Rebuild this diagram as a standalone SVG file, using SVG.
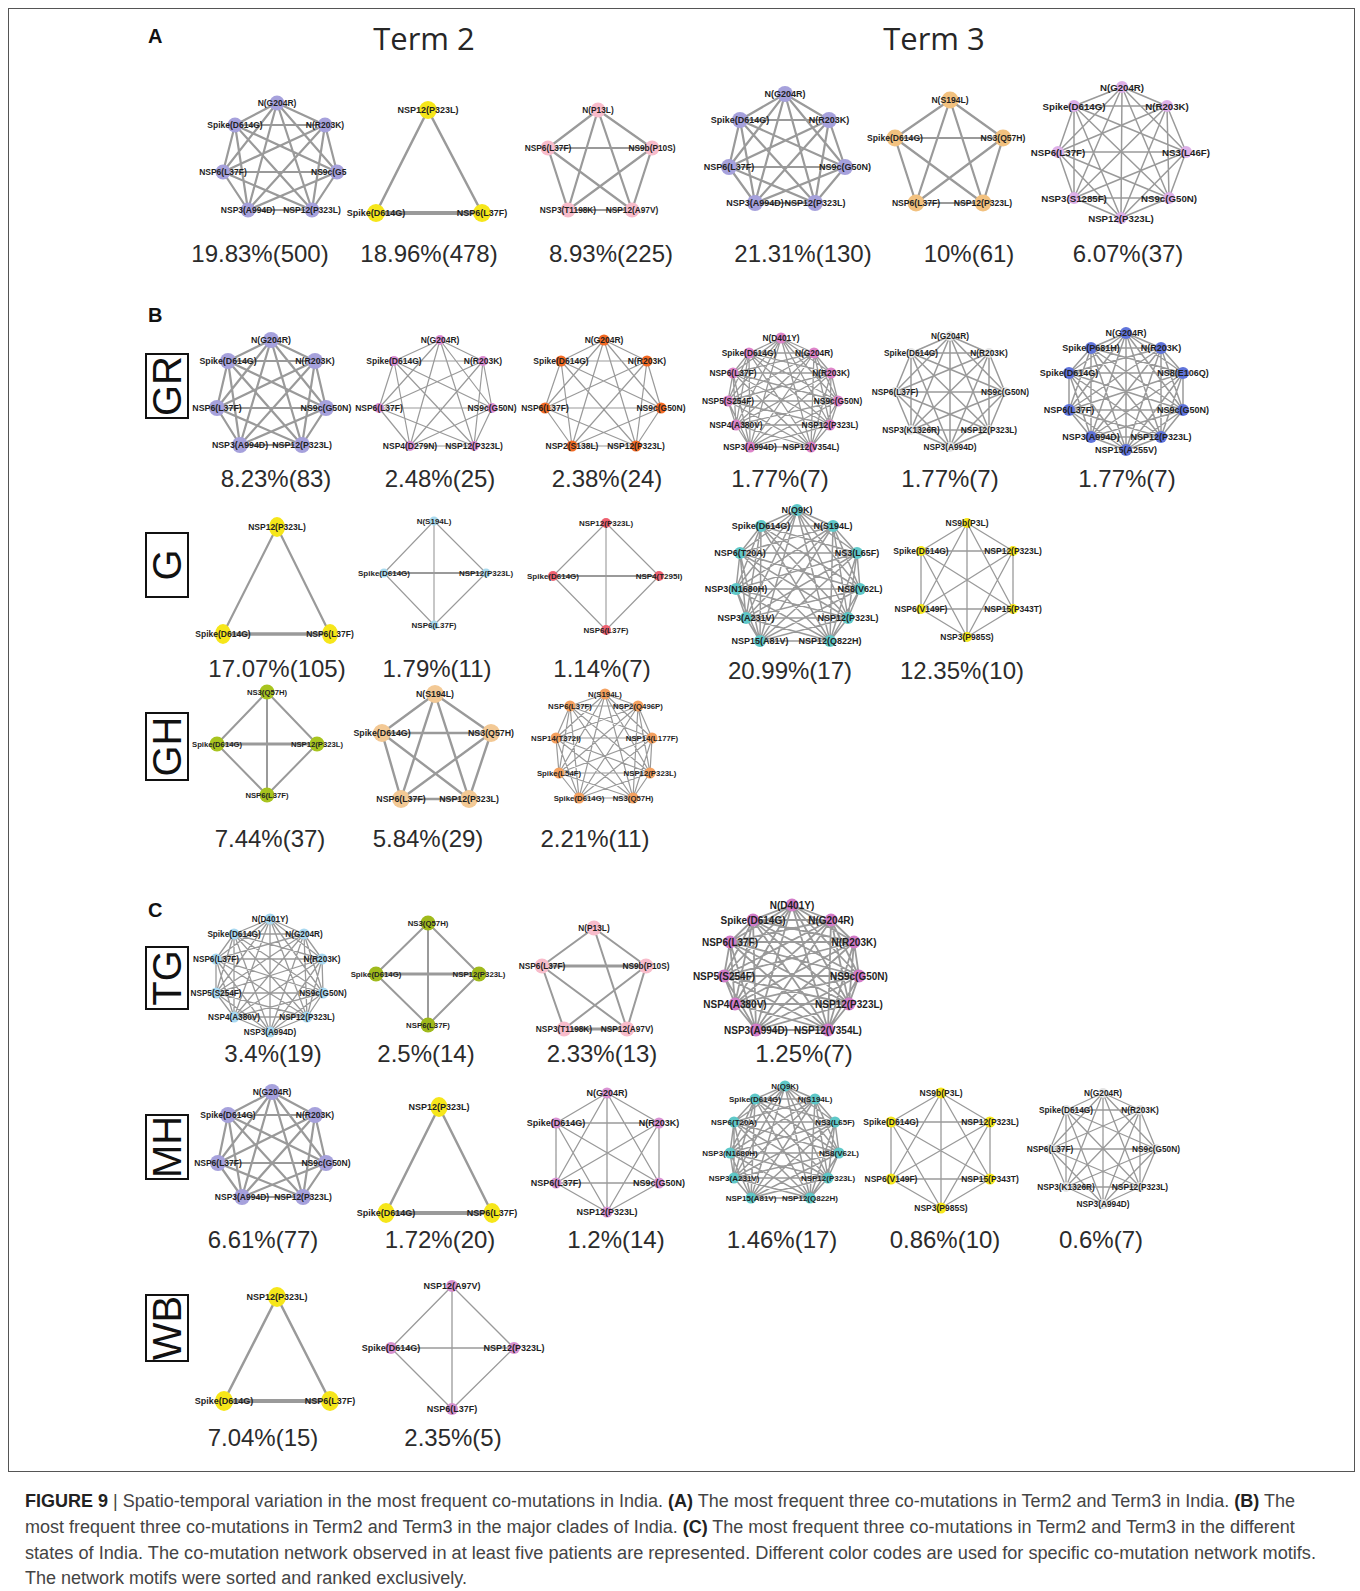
<svg xmlns="http://www.w3.org/2000/svg" width="1360" height="1591" viewBox="0 0 1360 1591">
<style>
.e path{fill:none;stroke:#9a9a9a;stroke-linejoin:round;stroke-linecap:round}
.n text{font-family:"Liberation Sans",Arial,sans-serif;font-weight:bold;fill:#1f1f1f;text-anchor:middle;dominant-baseline:central}
.p{font-family:"Liberation Sans",Arial,sans-serif;font-size:24px;fill:#2b2b2b;text-anchor:middle}
.t{font-family:"Open Sans","Liberation Sans",sans-serif;font-size:31px;fill:#262626;text-anchor:middle}
.k{font-family:"Liberation Sans",Arial,sans-serif;font-weight:bold;font-size:20px;fill:#111}
.bx{fill:none;stroke:#111;stroke-width:2}
.bt{font-family:"Liberation Sans",Arial,sans-serif;font-size:40px;fill:#111;text-anchor:middle}
.cap{font-family:"Liberation Sans",Arial,sans-serif;font-size:18px;fill:#444}
.b{font-weight:bold;fill:#222}
</style>
<rect x="8.5" y="8.5" width="1346" height="1463" fill="none" stroke="#555" stroke-width="1"/>
<text class="k" x="148" y="43">A</text>
<text class="k" x="148" y="322">B</text>
<text class="k" x="148" y="917">C</text>
<text class="t" x="424" y="50">Term 2</text>
<text class="t" x="934" y="50">Term 3</text>
<g id="clade-boxes">
<rect class="bx" x="146" y="354" width="42" height="64"/><text class="bt" transform="translate(167,386) rotate(-90)" y="14">GR</text>
<rect class="bx" x="146" y="533" width="42" height="64"/><text class="bt" transform="translate(167,565) rotate(-90)" y="14">G</text>
<rect class="bx" x="146" y="713" width="42" height="67"/><text class="bt" transform="translate(167,746.5) rotate(-90)" y="14">GH</text>
<rect class="bx" x="146" y="947" width="42" height="62"/><text class="bt" transform="translate(167,978) rotate(-90)" y="14">TG</text>
<rect class="bx" x="146" y="1115" width="42" height="64"/><text class="bt" transform="translate(167,1147) rotate(-90)" y="14">MH</text>
<rect class="bx" x="146" y="1295" width="42" height="66"/><text class="bt" transform="translate(167,1328) rotate(-90)" y="14">WB</text>
</g>
<g id="connectors" class="e">
<path id="eA1" stroke-width="2.2" d="M277 103L325 125L337 172L312 210L248 210L223 172L235 125ZM277 103L337 172L248 210L235 125L325 125L312 210L223 172ZM277 103L312 210L235 125L337 172L223 172L325 125L248 210Z"/>
<path id="eA2" stroke-width="2.5" d="M428 110L482 213M428 110L376 213"/>
<path id="eA2b" stroke-width="4" d="M376 213L482 213"/>
<path id="eA3" stroke-width="2.2" d="M598 110L652 148L632 210L568 210L548 148ZM598 110L632 210L548 148L652 148L568 210Z"/>
<path id="eA4" stroke-width="2.2" d="M785 94L829 120L845 167L815 203L755 203L729 167L740 120ZM785 94L845 167L755 203L740 120L829 120L815 203L729 167ZM785 94L815 203L740 120L845 167L729 167L829 120L755 203Z"/>
<path id="eA5" stroke-width="2.2" d="M950 100L1003 138L983 203L916 203L895 138ZM950 100L983 203L895 138L1003 138L916 203Z"/>
<path id="eA6" stroke-width="1.5" d="M1122 87L1167 106L1186 152L1169 198L1121 218L1074 198L1058 152L1074 106ZM1122 87L1186 152L1121 218L1058 152ZM1167 106L1169 198L1074 198L1074 106ZM1122 87L1169 198L1058 152L1167 106L1121 218L1074 106L1186 152L1074 198ZM1122 87L1121 218M1167 106L1074 198M1186 152L1058 152M1169 198L1074 106"/>
<path id="eGR1" stroke-width="2.2" d="M271 340L315 361L326 408L302 445L240 445L217 408L228 361ZM271 340L326 408L240 445L228 361L315 361L302 445L217 408ZM271 340L302 445L228 361L326 408L217 408L315 361L240 445Z"/>
<path id="eGR2" stroke-width="1.2" d="M440 340L483 361L492 408L474 446L410 446L379 408L394 361ZM440 340L492 408L410 446L394 361L483 361L474 446L379 408ZM440 340L474 446L394 361L492 408L379 408L483 361L410 446Z"/>
<path id="eGR3" stroke-width="1.2" d="M604 340L647 361L661 408L636 446L572 446L545 408L561 361ZM604 340L661 408L572 446L561 361L647 361L636 446L545 408ZM604 340L636 446L561 361L661 408L545 408L647 361L572 446Z"/>
<path id="eGR4" stroke-width="1.3" d="M781 338L814 353L831 373L838 401L830 425L811 447L750 447L736 425L728 401L733 373L749 353ZM781 338L831 373L830 425L750 447L728 401L749 353L814 353L838 401L811 447L736 425L733 373ZM781 338L838 401L750 447L733 373L814 353L830 425L736 425L749 353L831 373L811 447L728 401ZM781 338L830 425L728 401L814 353L811 447L733 373L831 373L750 447L749 353L838 401L736 425ZM781 338L811 447L749 353L830 425L733 373L838 401L728 401L831 373L736 425L814 353L750 447Z"/>
<path id="eGR5" stroke-width="1.5" d="M950 336L989 353L1005 392L989 430L950 447L911 430L895 392L911 353ZM950 336L1005 392L950 447L895 392ZM989 353L989 430L911 430L911 353ZM950 336L989 430L895 392L989 353L950 447L911 353L1005 392L911 430ZM950 336L950 447M989 353L911 430M1005 392L895 392M989 430L911 353"/>
<path id="eGR6" stroke-width="1.5" d="M1126 333L1161 348L1183 373L1183 410L1161 437L1126 450L1091 437L1069 410L1069 373L1091 348ZM1126 333L1183 373L1161 437L1091 437L1069 373ZM1161 348L1183 410L1126 450L1069 410L1091 348ZM1126 333L1183 410L1091 437L1091 348L1183 373L1126 450L1069 373L1161 348L1161 437L1069 410ZM1126 333L1161 437L1069 373L1183 373L1091 437ZM1161 348L1126 450L1091 348L1183 410L1069 410ZM1126 333L1126 450M1161 348L1091 437M1183 373L1069 410M1183 410L1069 373M1161 437L1091 348"/>
<path id="eG1" stroke-width="2.2" d="M277 527L330 634M277 527L223 634"/>
<path id="eG1b" stroke-width="3.5" d="M223 634L330 634"/>
<path id="eG2" stroke-width="1.1" d="M434 521L486 573L434 625L384 573ZM434 521L434 625"/>
<path id="eG2b" stroke-width="2" d="M384 573L486 573"/>
<path id="eG3" stroke-width="1.1" d="M606 523L659 576L606 630L553 576ZM606 523L606 630"/>
<path id="eG3b" stroke-width="2" d="M553 576L659 576"/>
<path id="eG4" stroke-width="1.5" d="M797 510L833 526L857 553L860 589L848 618L830 641L760 641L746 618L736 589L740 553L761 526ZM797 510L857 553L848 618L760 641L736 589L761 526L833 526L860 589L830 641L746 618L740 553ZM797 510L860 589L760 641L740 553L833 526L848 618L746 618L761 526L857 553L830 641L736 589ZM797 510L848 618L736 589L833 526L830 641L740 553L857 553L760 641L761 526L860 589L746 618ZM797 510L830 641L761 526L848 618L740 553L860 589L736 589L857 553L746 618L833 526L760 641Z"/>
<path id="eG5" stroke-width="1.3" d="M967 523L1013 551L1013 609L967 637L921 609L921 551ZM967 523L1013 609L921 609ZM1013 551L967 637L921 551ZM967 523L967 637M1013 551L921 609M1013 609L921 551"/>
<path id="eGH1" stroke-width="2" d="M267 692L317 744L267 795L217 744ZM267 692L267 795"/>
<path id="eGH1b" stroke-width="3" d="M217 744L317 744"/>
<path id="eGH2" stroke-width="2.4" d="M435 694L491 733L469 799L401 799L382 733ZM435 694L469 799L382 733L491 733L401 799Z"/>
<path id="eGH3" stroke-width="1.2" d="M605 694L638 706L652 738L650 773L633 798L579 798L559 773L556 738L570 706ZM605 694L652 738L633 798L559 773L570 706L638 706L650 773L579 798L556 738ZM605 694L650 773L559 773ZM638 706L633 798L556 738ZM652 738L579 798L570 706ZM605 694L633 798L570 706L650 773L556 738L652 738L559 773L638 706L579 798Z"/>
<path id="eTG1" stroke-width="1.3" d="M270 919L304 934L322 959L323 993L307 1017L270 1032L234 1017L216 993L216 959L234 934ZM270 919L322 959L307 1017L234 1017L216 959ZM304 934L323 993L270 1032L216 993L234 934ZM270 919L323 993L234 1017L234 934L322 959L270 1032L216 959L304 934L307 1017L216 993ZM270 919L307 1017L216 959L322 959L234 1017ZM304 934L270 1032L234 934L323 993L216 993ZM270 919L270 1032M304 934L234 1017M322 959L216 993M323 993L216 959M307 1017L234 934"/>
<path id="eTG2" stroke-width="2" d="M428 923L479 974L428 1025L376 974ZM428 923L428 1025"/>
<path id="eTG2b" stroke-width="3" d="M376 974L479 974"/>
<path id="eTG3" stroke-width="2" d="M594 928L646 966L627 1029L564 1029L542 966ZM594 928L627 1029L542 966M646 966L564 1029Z"/>
<path id="eTG3b" stroke-width="3.2" d="M542 966L646 966M564 1029L627 1029"/>
<path id="eTG4" stroke-width="1.8" d="M792 905L831 920L854 942L859 976L849 1004L828 1030L756 1030L735 1004L724 976L730 942L753 920ZM792 905L854 942L849 1004L756 1030L724 976L753 920L831 920L859 976L828 1030L735 1004L730 942ZM792 905L859 976L756 1030L730 942L831 920L849 1004L735 1004L753 920L854 942L828 1030L724 976ZM792 905L849 1004L724 976L831 920L828 1030L730 942L854 942L756 1030L753 920L859 976L735 1004ZM792 905L828 1030L753 920L849 1004L730 942L859 976L724 976L854 942L735 1004L831 920L756 1030Z"/>
<path id="eMH1" stroke-width="2.2" d="M272 1092L315 1115L326 1163L303 1197L242 1197L218 1163L228 1115ZM272 1092L326 1163L242 1197L228 1115L315 1115L303 1197L218 1163ZM272 1092L303 1197L228 1115L326 1163L218 1163L315 1115L242 1197Z"/>
<path id="eMH2" stroke-width="2.5" d="M439 1107L492 1213M439 1107L386 1213"/>
<path id="eMH2b" stroke-width="4" d="M386 1213L492 1213"/>
<path id="eMH3" stroke-width="1.3" d="M607 1093L659 1123L659 1183L607 1212L556 1183L556 1123ZM607 1093L659 1183L556 1183ZM659 1123L607 1212L556 1123ZM607 1093L607 1212M659 1123L556 1183M659 1183L556 1123"/>
<path id="eMH4" stroke-width="1.5" d="M785 1086L815 1099L835 1122L839 1153L828 1178L810 1198L751 1198L734 1178L730 1153L734 1122L755 1099ZM785 1086L835 1122L828 1178L751 1198L730 1153L755 1099L815 1099L839 1153L810 1198L734 1178L734 1122ZM785 1086L839 1153L751 1198L734 1122L815 1099L828 1178L734 1178L755 1099L835 1122L810 1198L730 1153ZM785 1086L828 1178L730 1153L815 1099L810 1198L734 1122L835 1122L751 1198L755 1099L839 1153L734 1178ZM785 1086L810 1198L755 1099L828 1178L734 1122L839 1153L730 1153L835 1122L734 1178L815 1099L751 1198Z"/>
<path id="eMH5" stroke-width="1.3" d="M941 1093L990 1122L990 1179L941 1208L891 1179L891 1122ZM941 1093L990 1179L891 1179ZM990 1122L941 1208L891 1122ZM941 1093L941 1208M990 1122L891 1179M990 1179L891 1122"/>
<path id="eMH6" stroke-width="1.3" d="M1103 1093L1140 1110L1156 1149L1140 1187L1103 1204L1066 1187L1050 1149L1066 1110ZM1103 1093L1156 1149L1103 1204L1050 1149ZM1140 1110L1140 1187L1066 1187L1066 1110ZM1103 1093L1140 1187L1050 1149L1140 1110L1103 1204L1066 1110L1156 1149L1066 1187ZM1103 1093L1103 1204M1140 1110L1066 1187M1156 1149L1050 1149M1140 1187L1066 1110"/>
<path id="eWB1" stroke-width="2.5" d="M277 1297L330 1401M277 1297L224 1401"/>
<path id="eWB1b" stroke-width="4" d="M224 1401L330 1401"/>
<path id="eWB2" stroke-width="1.3" d="M452 1286L514 1348L452 1409L391 1348ZM452 1286L452 1409M391 1348L514 1348"/>
</g>
<g id="nodes" class="n">
<g id="netA1" fill="#a6a1dc" font-size="8.5">
<g id="A1-0"><circle cx="277" cy="103" r="7.5"/><text x="277" y="103">N(G204R)</text></g>
<g id="A1-1"><circle cx="325" cy="125" r="7.5"/><text x="325" y="125">N(R203K)</text></g>
<g id="A1-2"><circle cx="337" cy="172" r="7.5"/><text x="311" y="172" style="text-anchor:start">NS9c(G5</text></g>
<g id="A1-3"><circle cx="312" cy="210" r="7.5"/><text x="312" y="210">NSP12(P323L)</text></g>
<g id="A1-4"><circle cx="248" cy="210" r="7.5"/><text x="248" y="210">NSP3(A994D)</text></g>
<g id="A1-5"><circle cx="223" cy="172" r="7.5"/><text x="223" y="172">NSP6(L37F)</text></g>
<g id="A1-6"><circle cx="235" cy="125" r="7.5"/><text x="235" y="125">Spike(D614G)</text></g>
</g>
<g id="netA2" fill="#f6e61a" font-size="9">
<g id="A2-0"><circle cx="428" cy="110" r="9"/><text x="428" y="110">NSP12(P323L)</text></g>
<g id="A2-1"><circle cx="482" cy="213" r="9"/><text x="482" y="213">NSP6(L37F)</text></g>
<g id="A2-2"><circle cx="376" cy="213" r="9"/><text x="376" y="213">Spike(D614G)</text></g>
</g>
<g id="netA3" fill="#f8bccb" font-size="8.3">
<g id="A3-0"><circle cx="598" cy="110" r="7.5"/><text x="598" y="110">N(P13L)</text></g>
<g id="A3-1"><circle cx="652" cy="148" r="7.5"/><text x="652" y="148">NS9b(P10S)</text></g>
<g id="A3-2"><circle cx="632" cy="210" r="7.5"/><text x="632" y="210">NSP12(A97V)</text></g>
<g id="A3-3"><circle cx="568" cy="210" r="7.5"/><text x="568" y="210">NSP3(T1198K)</text></g>
<g id="A3-4"><circle cx="548" cy="148" r="7.5"/><text x="548" y="148">NSP6(L37F)</text></g>
</g>
<g id="netA4" fill="#a6a1dc" font-size="9">
<g id="A4-0"><circle cx="785" cy="94" r="8"/><text x="785" y="94">N(G204R)</text></g>
<g id="A4-1"><circle cx="829" cy="120" r="8"/><text x="829" y="120">N(R203K)</text></g>
<g id="A4-2"><circle cx="845" cy="167" r="8"/><text x="845" y="167">NS9c(G50N)</text></g>
<g id="A4-3"><circle cx="815" cy="203" r="8"/><text x="815" y="203">NSP12(P323L)</text></g>
<g id="A4-4"><circle cx="755" cy="203" r="8"/><text x="755" y="203">NSP3(A994D)</text></g>
<g id="A4-5"><circle cx="729" cy="167" r="8"/><text x="729" y="167">NSP6(L37F)</text></g>
<g id="A4-6"><circle cx="740" cy="120" r="8"/><text x="740" y="120">Spike(D614G)</text></g>
</g>
<g id="netA5" fill="#f2c17f" font-size="8.6">
<g id="A5-0"><circle cx="950" cy="100" r="8.5"/><text x="950" y="100">N(S194L)</text></g>
<g id="A5-1"><circle cx="1003" cy="138" r="8.5"/><text x="1003" y="138">NS3(Q57H)</text></g>
<g id="A5-2"><circle cx="983" cy="203" r="8.5"/><text x="983" y="203">NSP12(P323L)</text></g>
<g id="A5-3"><circle cx="916" cy="203" r="8.5"/><text x="916" y="203">NSP6(L37F)</text></g>
<g id="A5-4"><circle cx="895" cy="138" r="8.5"/><text x="895" y="138">Spike(D614G)</text></g>
</g>
<g id="netA6" fill="#ddb0e8" font-size="9.7">
<g id="A6-0"><circle cx="1122" cy="87" r="6"/><text x="1122" y="87">N(G204R)</text></g>
<g id="A6-1"><circle cx="1167" cy="106" r="6"/><text x="1167" y="106">N(R203K)</text></g>
<g id="A6-2"><circle cx="1186" cy="152" r="6"/><text x="1186" y="152">NS3(L46F)</text></g>
<g id="A6-3"><circle cx="1169" cy="198" r="6"/><text x="1169" y="198">NS9c(G50N)</text></g>
<g id="A6-4"><circle cx="1121" cy="218" r="6"/><text x="1121" y="218">NSP12(P323L)</text></g>
<g id="A6-5"><circle cx="1074" cy="198" r="6"/><text x="1074" y="198">NSP3(S1285F)</text></g>
<g id="A6-6"><circle cx="1058" cy="152" r="6"/><text x="1058" y="152">NSP6(L37F)</text></g>
<g id="A6-7"><circle cx="1074" cy="106" r="6"/><text x="1074" y="106">Spike(D614G)</text></g>
</g>
<g id="netGR1" fill="#a6a1dc" font-size="8.8">
<g id="GR1-0"><circle cx="271" cy="340" r="8"/><text x="271" y="340">N(G204R)</text></g>
<g id="GR1-1"><circle cx="315" cy="361" r="8"/><text x="315" y="361">N(R203K)</text></g>
<g id="GR1-2"><circle cx="326" cy="408" r="8"/><text x="326" y="408">NS9c(G50N)</text></g>
<g id="GR1-3"><circle cx="302" cy="445" r="8"/><text x="302" y="445">NSP12(P323L)</text></g>
<g id="GR1-4"><circle cx="240" cy="445" r="8"/><text x="240" y="445">NSP3(A994D)</text></g>
<g id="GR1-5"><circle cx="217" cy="408" r="8"/><text x="217" y="408">NSP6(L37F)</text></g>
<g id="GR1-6"><circle cx="228" cy="361" r="8"/><text x="228" y="361">Spike(D614G)</text></g>
</g>
<g id="netGR2" fill="#da8dd2" font-size="8.5">
<g id="GR2-0"><circle cx="440" cy="340" r="5"/><text x="440" y="340">N(G204R)</text></g>
<g id="GR2-1"><circle cx="483" cy="361" r="5"/><text x="483" y="361">N(R203K)</text></g>
<g id="GR2-2"><circle cx="492" cy="408" r="5"/><text x="492" y="408">NS9c(G50N)</text></g>
<g id="GR2-3"><circle cx="474" cy="446" r="5"/><text x="474" y="446">NSP12(P323L)</text></g>
<g id="GR2-4"><circle cx="410" cy="446" r="5"/><text x="410" y="446">NSP4(D279N)</text></g>
<g id="GR2-5"><circle cx="379" cy="408" r="5"/><text x="379" y="408">NSP6(L37F)</text></g>
<g id="GR2-6"><circle cx="394" cy="361" r="5"/><text x="394" y="361">Spike(D614G)</text></g>
</g>
<g id="netGR3" fill="#f36a24" font-size="8.5">
<g id="GR3-0"><circle cx="604" cy="340" r="5.5"/><text x="604" y="340">N(G204R)</text></g>
<g id="GR3-1"><circle cx="647" cy="361" r="5.5"/><text x="647" y="361">N(R203K)</text></g>
<g id="GR3-2"><circle cx="661" cy="408" r="5.5"/><text x="661" y="408">NS9c(G50N)</text></g>
<g id="GR3-3"><circle cx="636" cy="446" r="5.5"/><text x="636" y="446">NSP12(P323L)</text></g>
<g id="GR3-4"><circle cx="572" cy="446" r="5.5"/><text x="572" y="446">NSP2(S138L)</text></g>
<g id="GR3-5"><circle cx="545" cy="408" r="5.5"/><text x="545" y="408">NSP6(L37F)</text></g>
<g id="GR3-6"><circle cx="561" cy="361" r="5.5"/><text x="561" y="361">Spike(D614G)</text></g>
</g>
<g id="netGR4" fill="#dd84c9" font-size="8.4">
<g id="GR4-0"><circle cx="781" cy="338" r="5.5"/><text x="781" y="338">N(D401Y)</text></g>
<g id="GR4-1"><circle cx="814" cy="353" r="5.5"/><text x="814" y="353">N(G204R)</text></g>
<g id="GR4-2"><circle cx="831" cy="373" r="5.5"/><text x="831" y="373">N(R203K)</text></g>
<g id="GR4-3"><circle cx="838" cy="401" r="5.5"/><text x="838" y="401">NS9c(G50N)</text></g>
<g id="GR4-4"><circle cx="830" cy="425" r="5.5"/><text x="830" y="425">NSP12(P323L)</text></g>
<g id="GR4-5"><circle cx="811" cy="447" r="5.5"/><text x="811" y="447">NSP12(V354L)</text></g>
<g id="GR4-6"><circle cx="750" cy="447" r="5.5"/><text x="750" y="447">NSP3(A994D)</text></g>
<g id="GR4-7"><circle cx="736" cy="425" r="5.5"/><text x="736" y="425">NSP4(A380V)</text></g>
<g id="GR4-8"><circle cx="728" cy="401" r="5.5"/><text x="728" y="401">NSP5(S254F)</text></g>
<g id="GR4-9"><circle cx="733" cy="373" r="5.5"/><text x="733" y="373">NSP6(L37F)</text></g>
<g id="GR4-10"><circle cx="749" cy="353" r="5.5"/><text x="749" y="353">Spike(D614G)</text></g>
</g>
<g id="netGR5" fill="#e6e6e6" font-size="8.3">
<g id="GR5-0"><circle cx="950" cy="336" r="5"/><text x="950" y="336">N(G204R)</text></g>
<g id="GR5-1"><circle cx="989" cy="353" r="5"/><text x="989" y="353">N(R203K)</text></g>
<g id="GR5-2"><circle cx="1005" cy="392" r="5"/><text x="1005" y="392">NS9c(G50N)</text></g>
<g id="GR5-3"><circle cx="989" cy="430" r="5"/><text x="989" y="430">NSP12(P323L)</text></g>
<g id="GR5-4"><circle cx="950" cy="447" r="5"/><text x="950" y="447">NSP3(A994D)</text></g>
<g id="GR5-5"><circle cx="911" cy="430" r="5"/><text x="911" y="430">NSP3(K1326R)</text></g>
<g id="GR5-6"><circle cx="895" cy="392" r="5"/><text x="895" y="392">NSP6(L37F)</text></g>
<g id="GR5-7"><circle cx="911" cy="353" r="5"/><text x="911" y="353">Spike(D614G)</text></g>
</g>
<g id="netGR6" fill="#5f73da" font-size="9">
<g id="GR6-0"><circle cx="1126" cy="333" r="6"/><text x="1126" y="333">N(G204R)</text></g>
<g id="GR6-1"><circle cx="1161" cy="348" r="6"/><text x="1161" y="348">N(R203K)</text></g>
<g id="GR6-2"><circle cx="1183" cy="373" r="6"/><text x="1183" y="373">NS8(E106Q)</text></g>
<g id="GR6-3"><circle cx="1183" cy="410" r="6"/><text x="1183" y="410">NS9c(G50N)</text></g>
<g id="GR6-4"><circle cx="1161" cy="437" r="6"/><text x="1161" y="437">NSP12(P323L)</text></g>
<g id="GR6-5"><circle cx="1126" cy="450" r="6"/><text x="1126" y="450">NSP15(A255V)</text></g>
<g id="GR6-6"><circle cx="1091" cy="437" r="6"/><text x="1091" y="437">NSP3(A994D)</text></g>
<g id="GR6-7"><circle cx="1069" cy="410" r="6"/><text x="1069" y="410">NSP6(L37F)</text></g>
<g id="GR6-8"><circle cx="1069" cy="373" r="6"/><text x="1069" y="373">Spike(D614G)</text></g>
<g id="GR6-9"><circle cx="1091" cy="348" r="6"/><text x="1091" y="348">Spike(P681H)</text></g>
</g>
<g id="netG1" fill="#f6e61a" font-size="8.5">
<g id="G1-0"><ellipse cx="277" cy="527" rx="8" ry="10"/><text x="277" y="527">NSP12(P323L)</text></g>
<g id="G1-1"><ellipse cx="330" cy="634" rx="8" ry="10"/><text x="330" y="634">NSP6(L37F)</text></g>
<g id="G1-2"><ellipse cx="223" cy="634" rx="8" ry="10"/><text x="223" y="634">Spike(D614G)</text></g>
</g>
<g id="netG2" fill="#a9daee" font-size="8">
<g id="G2-0"><circle cx="434" cy="521" r="4.5"/><text x="434" y="521">N(S194L)</text></g>
<g id="G2-1"><circle cx="486" cy="573" r="4.5"/><text x="486" y="573">NSP12(P323L)</text></g>
<g id="G2-2"><circle cx="434" cy="625" r="4.5"/><text x="434" y="625">NSP6(L37F)</text></g>
<g id="G2-3"><circle cx="384" cy="573" r="4.5"/><text x="384" y="573">Spike(D614G)</text></g>
</g>
<g id="netG3" fill="#ee6170" font-size="8">
<g id="G3-0"><circle cx="606" cy="523" r="5"/><text x="606" y="523">NSP12(P323L)</text></g>
<g id="G3-1"><circle cx="659" cy="576" r="5"/><text x="659" y="576">NSP4(T295I)</text></g>
<g id="G3-2"><circle cx="606" cy="630" r="5"/><text x="606" y="630">NSP6(L37F)</text></g>
<g id="G3-3"><circle cx="553" cy="576" r="5"/><text x="553" y="576">Spike(D614G)</text></g>
</g>
<g id="netG4" fill="#5fc8c8" font-size="9">
<g id="G4-0"><circle cx="797" cy="510" r="6"/><text x="797" y="510">N(Q9K)</text></g>
<g id="G4-1"><circle cx="833" cy="526" r="6"/><text x="833" y="526">N(S194L)</text></g>
<g id="G4-2"><circle cx="857" cy="553" r="6"/><text x="857" y="553">NS3(L65F)</text></g>
<g id="G4-3"><circle cx="860" cy="589" r="6"/><text x="860" y="589">NS8(V62L)</text></g>
<g id="G4-4"><circle cx="848" cy="618" r="6"/><text x="848" y="618">NSP12(P323L)</text></g>
<g id="G4-5"><circle cx="830" cy="641" r="6"/><text x="830" y="641">NSP12(Q822H)</text></g>
<g id="G4-6"><circle cx="760" cy="641" r="6"/><text x="760" y="641">NSP15(A81V)</text></g>
<g id="G4-7"><circle cx="746" cy="618" r="6"/><text x="746" y="618">NSP3(A231V)</text></g>
<g id="G4-8"><circle cx="736" cy="589" r="6"/><text x="736" y="589">NSP3(N1680H)</text></g>
<g id="G4-9"><circle cx="740" cy="553" r="6"/><text x="740" y="553">NSP6(T20A)</text></g>
<g id="G4-10"><circle cx="761" cy="526" r="6"/><text x="761" y="526">Spike(D614G)</text></g>
</g>
<g id="netG5" fill="#f6e61a" font-size="8.5">
<g id="G5-0"><circle cx="967" cy="523" r="5"/><text x="967" y="523">NS9b(P3L)</text></g>
<g id="G5-1"><circle cx="1013" cy="551" r="5"/><text x="1013" y="551">NSP12(P323L)</text></g>
<g id="G5-2"><circle cx="1013" cy="609" r="5"/><text x="1013" y="609">NSP15(P343T)</text></g>
<g id="G5-3"><circle cx="967" cy="637" r="5"/><text x="967" y="637">NSP3(P985S)</text></g>
<g id="G5-4"><circle cx="921" cy="609" r="5"/><text x="921" y="609">NSP6(V149F)</text></g>
<g id="G5-5"><circle cx="921" cy="551" r="5"/><text x="921" y="551">Spike(D614G)</text></g>
</g>
<g id="netGH1" fill="#a8c41f" font-size="7.7">
<g id="GH1-0"><circle cx="267" cy="692" r="7.5"/><text x="267" y="692">NS3(Q57H)</text></g>
<g id="GH1-1"><circle cx="317" cy="744" r="7.5"/><text x="317" y="744">NSP12(P323L)</text></g>
<g id="GH1-2"><circle cx="267" cy="795" r="7.5"/><text x="267" y="795">NSP6(L37F)</text></g>
<g id="GH1-3"><circle cx="217" cy="744" r="7.5"/><text x="217" y="744">Spike(D614G)</text></g>
</g>
<g id="netGH2" fill="#f3c995" font-size="8.8">
<g id="GH2-0"><circle cx="435" cy="694" r="9"/><text x="435" y="694">N(S194L)</text></g>
<g id="GH2-1"><circle cx="491" cy="733" r="9"/><text x="491" y="733">NS3(Q57H)</text></g>
<g id="GH2-2"><circle cx="469" cy="799" r="9"/><text x="469" y="799">NSP12(P323L)</text></g>
<g id="GH2-3"><circle cx="401" cy="799" r="9"/><text x="401" y="799">NSP6(L37F)</text></g>
<g id="GH2-4"><circle cx="382" cy="733" r="9"/><text x="382" y="733">Spike(D614G)</text></g>
</g>
<g id="netGH3" fill="#f4a160" font-size="7.8">
<g id="GH3-0"><circle cx="605" cy="694" r="5.5"/><text x="605" y="694">N(S194L)</text></g>
<g id="GH3-1"><circle cx="638" cy="706" r="5.5"/><text x="638" y="706">NSP2(Q496P)</text></g>
<g id="GH3-2"><circle cx="652" cy="738" r="5.5"/><text x="652" y="738">NSP14(L177F)</text></g>
<g id="GH3-3"><circle cx="650" cy="773" r="5.5"/><text x="650" y="773">NSP12(P323L)</text></g>
<g id="GH3-4"><circle cx="633" cy="798" r="5.5"/><text x="633" y="798">NS3(Q57H)</text></g>
<g id="GH3-5"><circle cx="579" cy="798" r="5.5"/><text x="579" y="798">Spike(D614G)</text></g>
<g id="GH3-6"><circle cx="559" cy="773" r="5.5"/><text x="559" y="773">Spike(L54F)</text></g>
<g id="GH3-7"><circle cx="556" cy="738" r="5.5"/><text x="556" y="738">NSP14(T372I)</text></g>
<g id="GH3-8"><circle cx="570" cy="706" r="5.5"/><text x="570" y="706">NSP6(L37F)</text></g>
</g>
<g id="netTG1" fill="#a9d8f0" font-size="8.2">
<g id="TG1-0"><circle cx="270" cy="919" r="5.5"/><text x="270" y="919">N(D401Y)</text></g>
<g id="TG1-1"><circle cx="304" cy="934" r="5.5"/><text x="304" y="934">N(G204R)</text></g>
<g id="TG1-2"><circle cx="322" cy="959" r="5.5"/><text x="322" y="959">N(R203K)</text></g>
<g id="TG1-3"><circle cx="323" cy="993" r="5.5"/><text x="323" y="993">NS9c(G50N)</text></g>
<g id="TG1-4"><circle cx="307" cy="1017" r="5.5"/><text x="307" y="1017">NSP12(P323L)</text></g>
<g id="TG1-5"><circle cx="270" cy="1032" r="5.5"/><text x="270" y="1032">NSP3(A994D)</text></g>
<g id="TG1-6"><circle cx="234" cy="1017" r="5.5"/><text x="234" y="1017">NSP4(A380V)</text></g>
<g id="TG1-7"><circle cx="216" cy="993" r="5.5"/><text x="216" y="993">NSP5(S254F)</text></g>
<g id="TG1-8"><circle cx="216" cy="959" r="5.5"/><text x="216" y="959">NSP6(L37F)</text></g>
<g id="TG1-9"><circle cx="234" cy="934" r="5.5"/><text x="234" y="934">Spike(D614G)</text></g>
</g>
<g id="netTG2" fill="#a0ba1c" font-size="7.8">
<g id="TG2-0"><circle cx="428" cy="923" r="7.5"/><text x="428" y="923">NS3(Q57H)</text></g>
<g id="TG2-1"><circle cx="479" cy="974" r="7.5"/><text x="479" y="974">NSP12(P323L)</text></g>
<g id="TG2-2"><circle cx="428" cy="1025" r="7.5"/><text x="428" y="1025">NSP6(L37F)</text></g>
<g id="TG2-3"><circle cx="376" cy="974" r="7.5"/><text x="376" y="974">Spike(D614G)</text></g>
</g>
<g id="netTG3" fill="#f8bccb" font-size="8.3">
<g id="TG3-0"><circle cx="594" cy="928" r="7.5"/><text x="594" y="928">N(P13L)</text></g>
<g id="TG3-1"><circle cx="646" cy="966" r="7.5"/><text x="646" y="966">NS9b(P10S)</text></g>
<g id="TG3-2"><circle cx="627" cy="1029" r="7.5"/><text x="627" y="1029">NSP12(A97V)</text></g>
<g id="TG3-3"><circle cx="564" cy="1029" r="7.5"/><text x="564" y="1029">NSP3(T1198K)</text></g>
<g id="TG3-4"><circle cx="542" cy="966" r="7.5"/><text x="542" y="966">NSP6(L37F)</text></g>
</g>
<g id="netTG4" fill="#d27bc8" font-size="10">
<g id="TG4-0"><circle cx="792" cy="905" r="6.5"/><text x="792" y="905">N(D401Y)</text></g>
<g id="TG4-1"><circle cx="831" cy="920" r="6.5"/><text x="831" y="920">N(G204R)</text></g>
<g id="TG4-2"><circle cx="854" cy="942" r="6.5"/><text x="854" y="942">N(R203K)</text></g>
<g id="TG4-3"><circle cx="859" cy="976" r="6.5"/><text x="859" y="976">NS9c(G50N)</text></g>
<g id="TG4-4"><circle cx="849" cy="1004" r="6.5"/><text x="849" y="1004">NSP12(P323L)</text></g>
<g id="TG4-5"><circle cx="828" cy="1030" r="6.5"/><text x="828" y="1030">NSP12(V354L)</text></g>
<g id="TG4-6"><circle cx="756" cy="1030" r="6.5"/><text x="756" y="1030">NSP3(A994D)</text></g>
<g id="TG4-7"><circle cx="735" cy="1004" r="6.5"/><text x="735" y="1004">NSP4(A380V)</text></g>
<g id="TG4-8"><circle cx="724" cy="976" r="6.5"/><text x="724" y="976">NSP5(S254F)</text></g>
<g id="TG4-9"><circle cx="730" cy="942" r="6.5"/><text x="730" y="942">NSP6(L37F)</text></g>
<g id="TG4-10"><circle cx="753" cy="920" r="6.5"/><text x="753" y="920">Spike(D614G)</text></g>
</g>
<g id="netMH1" fill="#a6a1dc" font-size="8.5">
<g id="MH1-0"><circle cx="272" cy="1092" r="8"/><text x="272" y="1092">N(G204R)</text></g>
<g id="MH1-1"><circle cx="315" cy="1115" r="8"/><text x="315" y="1115">N(R203K)</text></g>
<g id="MH1-2"><circle cx="326" cy="1163" r="8"/><text x="326" y="1163">NS9c(G50N)</text></g>
<g id="MH1-3"><circle cx="303" cy="1197" r="8"/><text x="303" y="1197">NSP12(P323L)</text></g>
<g id="MH1-4"><circle cx="242" cy="1197" r="8"/><text x="242" y="1197">NSP3(A994D)</text></g>
<g id="MH1-5"><circle cx="218" cy="1163" r="8"/><text x="218" y="1163">NSP6(L37F)</text></g>
<g id="MH1-6"><circle cx="228" cy="1115" r="8"/><text x="228" y="1115">Spike(D614G)</text></g>
</g>
<g id="netMH2" fill="#f6e61a" font-size="9">
<g id="MH2-0"><ellipse cx="439" cy="1107" rx="8.5" ry="10"/><text x="439" y="1107">NSP12(P323L)</text></g>
<g id="MH2-1"><ellipse cx="492" cy="1213" rx="8.5" ry="10"/><text x="492" y="1213">NSP6(L37F)</text></g>
<g id="MH2-2"><ellipse cx="386" cy="1213" rx="8.5" ry="10"/><text x="386" y="1213">Spike(D614G)</text></g>
</g>
<g id="netMH3" fill="#d993d3" font-size="9">
<g id="MH3-0"><circle cx="607" cy="1093" r="5.5"/><text x="607" y="1093">N(G204R)</text></g>
<g id="MH3-1"><circle cx="659" cy="1123" r="5.5"/><text x="659" y="1123">N(R203K)</text></g>
<g id="MH3-2"><circle cx="659" cy="1183" r="5.5"/><text x="659" y="1183">NS9c(G50N)</text></g>
<g id="MH3-3"><circle cx="607" cy="1212" r="5.5"/><text x="607" y="1212">NSP12(P323L)</text></g>
<g id="MH3-4"><circle cx="556" cy="1183" r="5.5"/><text x="556" y="1183">NSP6(L37F)</text></g>
<g id="MH3-5"><circle cx="556" cy="1123" r="5.5"/><text x="556" y="1123">Spike(D614G)</text></g>
</g>
<g id="netMH4" fill="#5fc8c8" font-size="8">
<g id="MH4-0"><circle cx="785" cy="1086" r="5.5"/><text x="785" y="1086">N(Q9K)</text></g>
<g id="MH4-1"><circle cx="815" cy="1099" r="5.5"/><text x="815" y="1099">N(S194L)</text></g>
<g id="MH4-2"><circle cx="835" cy="1122" r="5.5"/><text x="835" y="1122">NS3(L65F)</text></g>
<g id="MH4-3"><circle cx="839" cy="1153" r="5.5"/><text x="839" y="1153">NS8(V62L)</text></g>
<g id="MH4-4"><circle cx="828" cy="1178" r="5.5"/><text x="828" y="1178">NSP12(P323L)</text></g>
<g id="MH4-5"><circle cx="810" cy="1198" r="5.5"/><text x="810" y="1198">NSP12(Q822H)</text></g>
<g id="MH4-6"><circle cx="751" cy="1198" r="5.5"/><text x="751" y="1198">NSP15(A81V)</text></g>
<g id="MH4-7"><circle cx="734" cy="1178" r="5.5"/><text x="734" y="1178">NSP3(A231V)</text></g>
<g id="MH4-8"><circle cx="730" cy="1153" r="5.5"/><text x="730" y="1153">NSP3(N1680H)</text></g>
<g id="MH4-9"><circle cx="734" cy="1122" r="5.5"/><text x="734" y="1122">NSP6(T20A)</text></g>
<g id="MH4-10"><circle cx="755" cy="1099" r="5.5"/><text x="755" y="1099">Spike(D614G)</text></g>
</g>
<g id="netMH5" fill="#f6e61a" font-size="8.5">
<g id="MH5-0"><circle cx="941" cy="1093" r="5.5"/><text x="941" y="1093">NS9b(P3L)</text></g>
<g id="MH5-1"><circle cx="990" cy="1122" r="5.5"/><text x="990" y="1122">NSP12(P323L)</text></g>
<g id="MH5-2"><circle cx="990" cy="1179" r="5.5"/><text x="990" y="1179">NSP15(P343T)</text></g>
<g id="MH5-3"><circle cx="941" cy="1208" r="5.5"/><text x="941" y="1208">NSP3(P985S)</text></g>
<g id="MH5-4"><circle cx="891" cy="1179" r="5.5"/><text x="891" y="1179">NSP6(V149F)</text></g>
<g id="MH5-5"><circle cx="891" cy="1122" r="5.5"/><text x="891" y="1122">Spike(D614G)</text></g>
</g>
<g id="netMH6" fill="#e4e4e4" font-size="8.3">
<g id="MH6-0"><circle cx="1103" cy="1093" r="5"/><text x="1103" y="1093">N(G204R)</text></g>
<g id="MH6-1"><circle cx="1140" cy="1110" r="5"/><text x="1140" y="1110">N(R203K)</text></g>
<g id="MH6-2"><circle cx="1156" cy="1149" r="5"/><text x="1156" y="1149">NS9c(G50N)</text></g>
<g id="MH6-3"><circle cx="1140" cy="1187" r="5"/><text x="1140" y="1187">NSP12(P323L)</text></g>
<g id="MH6-4"><circle cx="1103" cy="1204" r="5"/><text x="1103" y="1204">NSP3(A994D)</text></g>
<g id="MH6-5"><circle cx="1066" cy="1187" r="5"/><text x="1066" y="1187">NSP3(K1326R)</text></g>
<g id="MH6-6"><circle cx="1050" cy="1149" r="5"/><text x="1050" y="1149">NSP6(L37F)</text></g>
<g id="MH6-7"><circle cx="1066" cy="1110" r="5"/><text x="1066" y="1110">Spike(D614G)</text></g>
</g>
<g id="netWB1" fill="#f6e61a" font-size="9">
<g id="WB1-0"><ellipse cx="277" cy="1297" rx="9" ry="10"/><text x="277" y="1297">NSP12(P323L)</text></g>
<g id="WB1-1"><ellipse cx="330" cy="1401" rx="9" ry="10"/><text x="330" y="1401">NSP6(L37F)</text></g>
<g id="WB1-2"><ellipse cx="224" cy="1401" rx="9" ry="10"/><text x="224" y="1401">Spike(D614G)</text></g>
</g>
<g id="netWB2" fill="#d690cf" font-size="9">
<g id="WB2-0"><circle cx="452" cy="1286" r="6"/><text x="452" y="1286">NSP12(A97V)</text></g>
<g id="WB2-1"><circle cx="514" cy="1348" r="6"/><text x="514" y="1348">NSP12(P323L)</text></g>
<g id="WB2-2"><circle cx="452" cy="1409" r="6"/><text x="452" y="1409">NSP6(L37F)</text></g>
<g id="WB2-3"><circle cx="391" cy="1348" r="6"/><text x="391" y="1348">Spike(D614G)</text></g>
</g>
</g>
<g id="percent-labels">
<text class="p" x="260" y="262">19.83%(500)</text>
<text class="p" x="429" y="262">18.96%(478)</text>
<text class="p" x="611" y="262">8.93%(225)</text>
<text class="p" x="803" y="262">21.31%(130)</text>
<text class="p" x="969" y="262">10%(61)</text>
<text class="p" x="1128" y="262">6.07%(37)</text>
<text class="p" x="276" y="487">8.23%(83)</text>
<text class="p" x="440" y="487">2.48%(25)</text>
<text class="p" x="607" y="487">2.38%(24)</text>
<text class="p" x="780" y="487">1.77%(7)</text>
<text class="p" x="950" y="487">1.77%(7)</text>
<text class="p" x="1127" y="487">1.77%(7)</text>
<text class="p" x="277" y="677">17.07%(105)</text>
<text class="p" x="437" y="677">1.79%(11)</text>
<text class="p" x="602" y="677">1.14%(7)</text>
<text class="p" x="790" y="679">20.99%(17)</text>
<text class="p" x="962" y="679">12.35%(10)</text>
<text class="p" x="270" y="847">7.44%(37)</text>
<text class="p" x="428" y="847">5.84%(29)</text>
<text class="p" x="595" y="847">2.21%(11)</text>
<text class="p" x="273" y="1062">3.4%(19)</text>
<text class="p" x="426" y="1062">2.5%(14)</text>
<text class="p" x="602" y="1062">2.33%(13)</text>
<text class="p" x="804" y="1062">1.25%(7)</text>
<text class="p" x="263" y="1248">6.61%(77)</text>
<text class="p" x="440" y="1248">1.72%(20)</text>
<text class="p" x="616" y="1248">1.2%(14)</text>
<text class="p" x="782" y="1248">1.46%(17)</text>
<text class="p" x="945" y="1248">0.86%(10)</text>
<text class="p" x="1101" y="1248">0.6%(7)</text>
<text class="p" x="263" y="1446">7.04%(15)</text>
<text class="p" x="453" y="1446">2.35%(5)</text>
</g>
<g id="caption">
<text class="cap" x="25" y="1507"><tspan class="b">FIGURE 9</tspan> | Spatio-temporal variation in the most frequent co-mutations in India. <tspan class="b">(A)</tspan> The most frequent three co-mutations in Term2 and Term3 in India. <tspan class="b">(B)</tspan> The</text>
<text class="cap" x="25" y="1533">most frequent three co-mutations in Term2 and Term3 in the major clades of India. <tspan class="b">(C)</tspan> The most frequent three co-mutations in Term2 and Term3 in the different</text>
<text class="cap" x="25" y="1559" textLength="1291" lengthAdjust="spacingAndGlyphs">states of India. The co-mutation network observed in at least five patients are represented. Different color codes are used for specific co-mutation network motifs.</text>
<text class="cap" x="25" y="1584" textLength="442" lengthAdjust="spacingAndGlyphs">The network motifs were sorted and ranked exclusively.</text>
</g>
</svg>
